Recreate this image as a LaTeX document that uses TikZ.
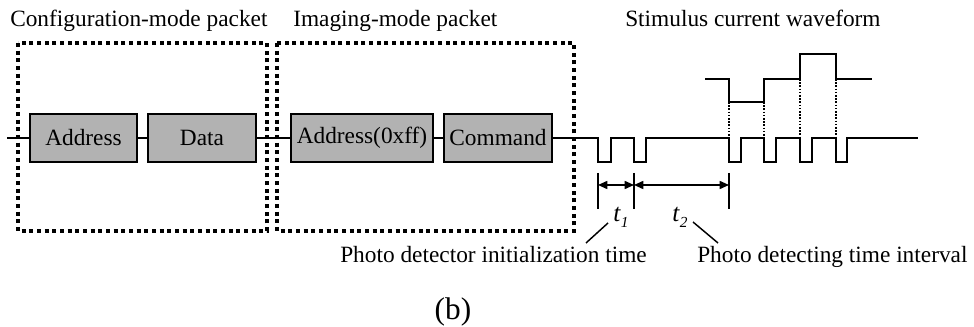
\documentclass[tikz,border=0pt]{standalone}
\usepackage{fontspec}
\setmainfont{Liberation Serif}
\usetikzlibrary{arrows.meta}
\newcommand{\tsub}[2]{\textit{#1}\raisebox{-4.5pt}{\fontsize{11.5}{13}\selectfont\textit{#2}}}
\begin{document}
\begin{tikzpicture}[x=0.75pt,y=-0.75pt,
  every node/.style={font=\fontsize{17.5}{21}\selectfont},
  pbox/.style={draw=black,fill=black!30,line width=1.1pt,inner sep=0pt,minimum height=36pt},
  wire/.style={line width=1.2pt},
  groupbox/.style={line width=3pt,dash pattern=on 3pt off 2.75pt},
  fine/.style={line width=1.2pt,dash pattern=on 1.2pt off 1.2pt},
  dim/.style={line width=1.2pt,{Triangle[length=7pt,width=6pt]}-{Triangle[length=7pt,width=6pt]}},
  lbl/.style={inner sep=0pt,anchor=base west}]
\useasboundingbox (0,0) rectangle (974,327);
% titles
\node[lbl] (t1title) at (10,27) {Configuration-mode packet};
\node[lbl] (t2title) at (293,27) {Imaging-mode packet};
\node[lbl] (t3title) at (625,27) {Stimulus current waveform};
% group boxes
\draw[groupbox] (18,43) rectangle (267,231);
\draw[groupbox] (277,43) rectangle (574,231);
% packet boxes
\node[pbox,minimum width=80.25pt] (addr) at (83.5,138) {Address};
\node[pbox,minimum width=81pt] (data) at (202,138) {Data};
\node[pbox,minimum width=106.5pt] (addrff) at (362,138) {Address(0xff)};
\node[pbox,minimum width=81pt] (cmd) at (498,138) {Command};
\coordinate (start) at (7,138);
\draw[wire] (start) -- (addr.west);
\draw[wire] (addr.east) -- (data.west);
\draw[wire] (data.east) -- (addrff.west);
\draw[wire] (addrff.east) -- (cmd.west);
% bottom waveform
\draw[wire,line join=miter] (cmd.east) -- (598,138) -- (598,162) -- (611,162) -- (611,138)
  -- (634,138) -- (634,162) -- (646,162) -- (646,138)
  -- (729,138) -- (729,162) -- (741,162) -- (741,138)
  -- (764,138) -- (764,162) -- (776,162) -- (776,138)
  -- (800,138) -- (800,162) -- (812,162) -- (812,138)
  -- (836,138) -- (836,162) -- (847,162) -- (847,138) -- (918,138);
% stimulus waveform
\draw[wire,line join=miter] (705,79) -- (729,79) -- (729,102) -- (764,102) -- (764,79)
  -- (800,79) -- (800,54) -- (836,54) -- (836,79) -- (872,79);
\draw[fine] (729,102) -- (729,138);
\draw[fine] (764,102) -- (764,138);
\draw[fine] (800,79) -- (800,138);
\draw[fine] (836,79) -- (836,138);
% dimensions
\coordinate (da) at (598,185);
\coordinate (db) at (634,185);
\coordinate (dc) at (729,185);
\draw[wire] (598,173) -- (598,209);
\draw[wire] (634,173) -- (634,209);
\draw[wire] (729,173) -- (729,209);
\draw[dim] (da) -- (db);
\draw[dim] (db) -- (dc);
\node[lbl,font=\fontsize{19}{22}\selectfont] (tone) at (613,222) {\tsub{t}{1}};
\node[lbl,font=\fontsize{19}{22}\selectfont] (ttwo) at (672,222) {\tsub{t}{2}};
\node[lbl] (init) at (340,263) {Photo detector initialization time};
\node[lbl] (detect) at (697,263) {Photo detecting time interval};
\coordinate (l1a) at (608,223);
\coordinate (l1b) at (586,243);
\coordinate (l2a) at (693,222);
\coordinate (l2b) at (718,243);
\draw[line width=1.1pt] (l1a) -- (l1b);
\draw[line width=1.1pt] (l2a) -- (l2b);
\node[inner sep=0pt,anchor=base,font=\fontsize{23.5}{27}\selectfont] (cap) at (453,320) {(b)};
\end{tikzpicture}
\end{document}
